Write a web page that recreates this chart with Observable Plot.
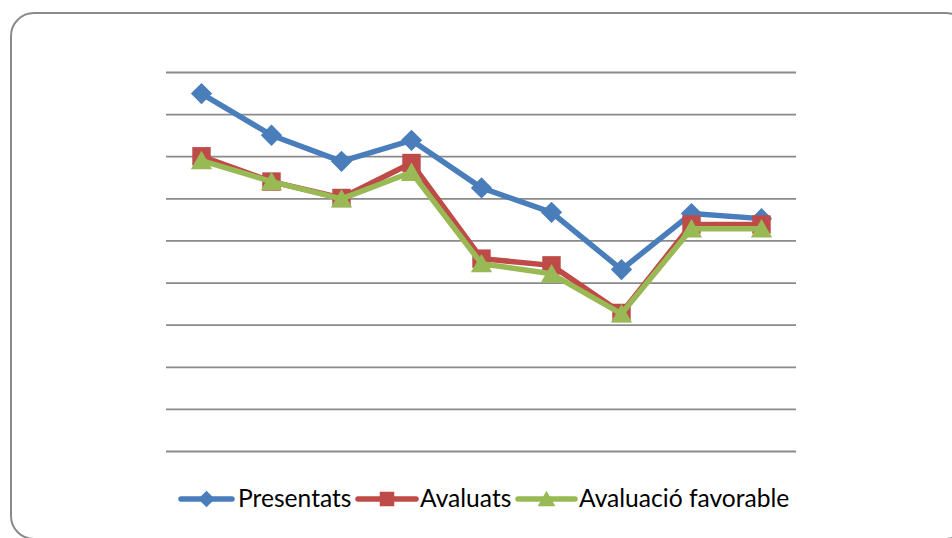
<!DOCTYPE html>
<html>
<head>
<meta charset="utf-8">
<script src="https://cdn.jsdelivr.net/npm/d3@7"></script>
<script src="https://cdn.jsdelivr.net/npm/@observablehq/plot@0.6"></script>
<style>
  html, body { margin: 0; padding: 0; background: #fff; width: 952px; height: 538px; overflow: hidden; }
  #frame { position: absolute; left: 10px; top: 12px; width: 960px; height: 528px; border: 2px solid #8a8a8a; border-radius: 24px; box-sizing: border-box; }
  #chart { position: absolute; left: 0; top: 0; }
  #legend { position: absolute; left: 0; top: 485px; width: 952px; height: 26px; font-family: Lato, "Open Sans", sans-serif; font-size: 24.6px; color: #000; white-space: nowrap; }
  .item { position: absolute; top: 0; display: flex; align-items: center; height: 26px; line-height: 26px; }
  .item svg { display: block; margin-right: 3px; }
</style>
</head>
<body>
<div id="frame"></div>
<div id="chart"></div>
<div id="legend"></div>
<script>
const categories = ["1", "2", "3", "4", "5", "6", "7", "8", "9"];
const presentats = [85.0, 75.1, 68.9, 73.9, 62.6, 56.8, 43.2, 56.5, 55.3];
const avaluats = [70.1, 64.1, 60.2, 68.5, 45.8, 44.2, 32.9, 53.9, 53.9];
const favorable = [69.1, 64.1, 60.0, 66.3, 44.6, 42.2, 32.7, 52.9, 52.9];
const seriesNames = ["Presentats", "Avaluats", "Avaluació favorable"];
const seriesColors = ["#4a7ebb", "#be4b48", "#98b954"];
const seriesSymbols = ["diamond2", "square", "triangle"];
const yTicks = [0, 10, 20, 30, 40, 50, 60, 70, 80, 90];

const markerR = [9.6, 10.4, 7.9];
const markerDy = [0, 0, 2.5];

const allValues = [presentats, avaluats, favorable];
const rows = [];
allValues.forEach((vals, s) => vals.forEach((v, i) => rows.push({cat: categories[i], value: v, series: seriesNames[s]})));

const marks = [Plot.ruleY(yTicks, {stroke: "#8a8a8a", strokeWidth: 1.8})];
seriesNames.forEach((name, s) => {
  const data = rows.filter(d => d.series === name);
  marks.push(Plot.line(data, {x: "cat", y: "value", stroke: seriesColors[s], strokeWidth: 5.5, strokeLinejoin: "round", strokeLinecap: "round"}));
  marks.push(Plot.dot(data, {x: "cat", y: "value", symbol: seriesSymbols[s], r: markerR[s], dy: markerDy[s], fill: seriesColors[s], stroke: "none"}));
});

const chart = Plot.plot({
  width: 952,
  height: 538,
  marginLeft: 166,
  marginRight: 156,
  marginTop: 72,
  marginBottom: 87,
  style: {background: "transparent", overflow: "visible"},
  x: {type: "point", domain: categories, padding: 0.5, axis: null},
  y: {domain: [0, 90], axis: null},
  marks
});
document.getElementById("chart").appendChild(chart);

const legend = document.getElementById("legend");
const swLeft = [178, 355, 515];
const swW = [57, 64, 63];
const legR = [7.5, 8.2, 6.6];
seriesNames.forEach((name, s) => {
  const item = document.createElement("div");
  item.className = "item";
  item.style.left = swLeft[s] + "px";
  const w = swW[s];
  const ns = "http://www.w3.org/2000/svg";
  const svg = document.createElementNS(ns, "svg");
  svg.setAttribute("width", w);
  svg.setAttribute("height", 26);
  svg.style.marginRight = (s === 0 ? 3 : 1) + "px";
  const line = document.createElementNS(ns, "line");
  line.setAttribute("x1", 3); line.setAttribute("x2", w - 3);
  line.setAttribute("y1", 14); line.setAttribute("y2", 14);
  line.setAttribute("stroke", seriesColors[s]);
  line.setAttribute("stroke-width", 5.5);
  line.setAttribute("stroke-linecap", "round");
  svg.appendChild(line);
  const sym = {diamond2: d3.symbolDiamond2, square: d3.symbolSquare, triangle: d3.symbolTriangle}[seriesSymbols[s]];
  const r = legR[s];
  const p = document.createElementNS(ns, "path");
  p.setAttribute("d", d3.symbol(sym, Math.PI * r * r)());
  p.setAttribute("transform", `translate(${w / 2},${14 + (s === 2 ? 2 : 0)})`);
  p.setAttribute("fill", seriesColors[s]);
  svg.appendChild(p);
  item.appendChild(svg);
  const t = document.createElement("span");
  t.textContent = name;
  item.appendChild(t);
  legend.appendChild(item);
});
</script>
</body>
</html>
